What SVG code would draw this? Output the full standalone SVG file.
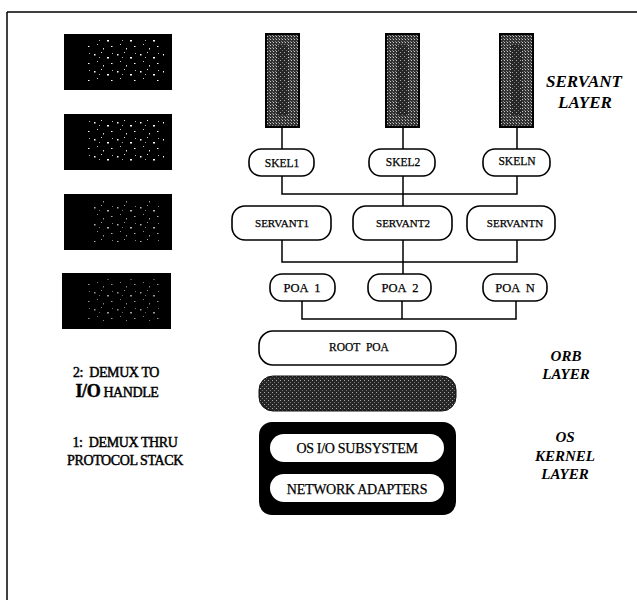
<svg xmlns="http://www.w3.org/2000/svg" width="637" height="600" viewBox="0 0 637 600">
<defs>
<style>
.node{fill:#fff;stroke:#000;stroke-width:1.6}
.lbl{font-family:"Liberation Serif",serif;fill:#000;stroke:#000;stroke-width:0.25;text-anchor:middle;dominant-baseline:central}
.layer{font-family:"Liberation Serif",serif;font-weight:bold;font-style:italic;fill:#000;text-anchor:middle}
.side{font-family:"Liberation Serif",serif;fill:#000;stroke:#000;stroke-width:0.45;font-size:14px;letter-spacing:-0.4px;text-anchor:middle}
.conn{fill:none;stroke:#000;stroke-width:1.5}
</style>
<pattern id="speck" width="23" height="17" patternUnits="userSpaceOnUse">
<rect width="23" height="17" fill="#000"/>
<rect x="2" y="3" width="1.5" height="1.5" fill="#fff"/>
<rect x="9" y="1" width="1" height="1" fill="#ddd"/>
<rect x="15" y="6" width="2" height="1.5" fill="#fff"/>
<rect x="5" y="10" width="1" height="1" fill="#ccc"/>
<rect x="19" y="12" width="1.5" height="1" fill="#fff"/>
<rect x="11" y="14" width="1" height="1.5" fill="#ddd"/>
<rect x="20" y="2" width="1" height="1" fill="#bbb"/>
<rect x="7" y="6" width="1" height="1" fill="#aaa"/>
</pattern>
<pattern id="stip" width="3" height="3" patternUnits="userSpaceOnUse">
<rect width="3" height="3" fill="#333"/>
<rect width="1" height="1" fill="#c8c8c8"/>
<rect x="2" y="2" width="1" height="1" fill="#888"/>
</pattern>
<pattern id="stip2" width="4" height="4" patternUnits="userSpaceOnUse">
<rect width="4" height="4" fill="#262626"/>
<rect width="1" height="1" fill="#aaa"/>
<rect x="2" y="2" width="1" height="1" fill="#777"/>
</pattern>
</defs>
<rect width="637" height="600" fill="#fff"/>
<g id="frame">
<line x1="7" y1="12" x2="637" y2="12" stroke="#000" stroke-width="1.5"/>
<line x1="7" y1="12" x2="7" y2="600" stroke="#000" stroke-width="1.5"/>
</g>
<g id="left-boxes">
<rect x="64" y="34" width="108" height="56" fill="#000"/>
<rect x="88" y="40" width="76" height="42" fill="url(#speck)"/>
<rect x="64" y="114" width="108" height="56" fill="#000"/>
<rect x="88" y="120" width="76" height="42" fill="url(#speck)"/>
<rect x="64" y="194" width="108" height="56" fill="#000"/>
<rect x="90" y="200" width="70" height="42" fill="url(#speck)" opacity="0.7"/>
<rect x="62" y="273" width="109" height="56" fill="#000"/>
<rect x="88" y="279" width="72" height="42" fill="url(#speck)" opacity="0.6"/>
</g>
<g id="connectors">
<path class="conn" d="M282 127V149M403 127V149M517 127V149"/>
<path class="conn" d="M282 176V194H517V176M403 176V206"/>
<path class="conn" d="M282 240V262H517V240M403 240V274"/>
<path class="conn" d="M302 301V319H516V301M402 301V319"/>
</g>
<g id="servant-bar-1">
<rect x="266" y="34" width="33" height="93" fill="url(#stip)" stroke="#000" stroke-width="2"/>
<rect x="277" y="45" width="11" height="70" fill="url(#stip2)"/>
</g>
<g id="servant-bar-2">
<rect x="386" y="34" width="33" height="93" fill="url(#stip)" stroke="#000" stroke-width="2"/>
<rect x="397" y="45" width="11" height="70" fill="url(#stip2)"/>
</g>
<g id="servant-bar-3">
<rect x="500" y="34" width="33" height="93" fill="url(#stip)" stroke="#000" stroke-width="2"/>
<rect x="511" y="45" width="11" height="70" fill="url(#stip2)"/>
</g>
<g id="skel1"><rect class="node" x="249" y="149" width="65" height="27" rx="12"/><text class="lbl" x="282" y="163" font-size="11.5">SKEL1</text></g>
<g id="skel2"><rect class="node" x="369" y="149" width="66" height="27" rx="12"/><text class="lbl" x="403" y="162" font-size="11.5">SKEL2</text></g>
<g id="skelN"><rect class="node" x="483" y="149" width="67" height="27" rx="12"/><text class="lbl" x="517" y="161" font-size="11.5">SKELN</text></g>
<g id="servant1"><rect class="node" x="232" y="206" width="99" height="34" rx="13"/><text class="lbl" x="282" y="223" font-size="11">SERVANT1</text></g>
<g id="servant2"><rect class="node" x="353" y="206" width="99" height="34" rx="13"/><text class="lbl" x="403" y="223" font-size="11">SERVANT2</text></g>
<g id="servantN"><rect class="node" x="467" y="206" width="88" height="34" rx="13"/><text class="lbl" x="515" y="223" font-size="11">SERVANTN</text></g>
<g id="poa1"><rect class="node" x="270" y="274" width="65" height="27" rx="12"/><text class="lbl" x="302" y="288" font-size="12.5" xml:space="preserve">POA  1</text></g>
<g id="poa2"><rect class="node" x="368" y="274" width="63" height="27" rx="12"/><text class="lbl" x="400" y="288" font-size="12.5" xml:space="preserve">POA  2</text></g>
<g id="poaN"><rect class="node" x="483" y="274" width="64" height="27" rx="12"/><text class="lbl" x="515" y="288" font-size="12.5" xml:space="preserve">POA  N</text></g>
<g id="root-poa"><rect class="node" x="259" y="331" width="197" height="34" rx="14"/><text class="lbl" x="359" y="347" font-size="11.5" xml:space="preserve">ROOT  POA</text></g>
<g id="orb-core"><rect x="259" y="376" width="197" height="35" rx="14" fill="url(#stip2)" stroke="#111" stroke-width="1"/></g>
<g id="os-kernel">
<rect x="259" y="422" width="197" height="93" rx="13" fill="#000"/>
<g id="os-io"><rect x="270" y="434" width="174" height="28" rx="14" fill="#fff"/><text class="lbl" x="357" y="448" font-size="14" letter-spacing="-0.3">OS I/O SUBSYSTEM</text></g>
<g id="net-adapters"><rect x="270" y="474" width="174" height="28" rx="14" fill="#fff"/><text class="lbl" x="357" y="489" font-size="14" letter-spacing="-0.3">NETWORK ADAPTERS</text></g>
</g>
<g id="side-labels">
<text class="side" x="116" y="377" xml:space="preserve">2:  DEMUX TO</text>
<text class="side" x="117" y="397"><tspan font-size="18" font-weight="bold">I/O</tspan> HANDLE</text>
<text class="side" x="125" y="447" xml:space="preserve">1:  DEMUX THRU</text>
<text class="side" x="125" y="465">PROTOCOL STACK</text>
</g>
<g id="layer-labels">
<text class="layer" x="584" y="87" font-size="17">SERVANT</text>
<text class="layer" x="585" y="108" font-size="17">LAYER</text>
<text class="layer" x="566" y="361" font-size="15">ORB</text>
<text class="layer" x="566" y="379" font-size="15">LAYER</text>
<text class="layer" x="565" y="442" font-size="15">OS</text>
<text class="layer" x="565" y="461" font-size="15">KERNEL</text>
<text class="layer" x="565" y="479" font-size="15">LAYER</text>
</g>
</svg>
